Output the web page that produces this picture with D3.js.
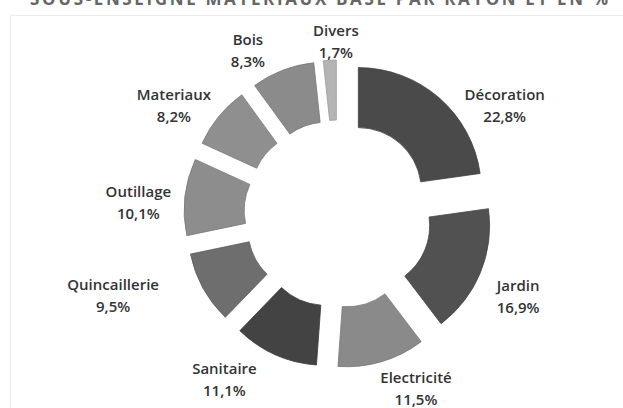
<!DOCTYPE html>
<html>
<head>
<meta charset="utf-8">
<script src="https://cdn.jsdelivr.net/npm/d3@7"></script>
<style>
  html, body { margin: 0; padding: 0; background: #fff; }
  svg { display: block; }
</style>
</head>
<body>
<svg id="chart" width="623" height="408"></svg>
<script>
// Répartition du chiffre d'affaires par rayon (en %)
const rayons = ["Décoration", "Jardin", "Electricité", "Sanitaire", "Quincaillerie", "Outillage", "Materiaux", "Bois", "Divers"];
const parts  = [22.8, 16.9, 11.5, 11.1, 9.5, 10.1, 8.2, 8.3, 1.7];
const titre  = "SOUS-ENSEIGNE MATÉRIAUX BASE PAR RAYON ET EN %";

// Niveaux de gris de chaque secteur
const teintes = ["#4a4a4a", "#515151", "#8a8a8a", "#434343", "#6e6e6e", "#8d8d8d", "#8f8f8f", "#8b8b8b", "#b4b4b4"];

// Position des étiquettes autour de l'anneau : [angle depuis midi (°), distance au centre]
const posEtiquettes = [[56.9, 199], [114.5, 198], [155.9, 191], [214.6, 200], [250.2, 239], [273.4, 200], [303.6, 197], [331.2, 187], [359.3, 173]];

const W = 623, H = 408;
const cx = 338, cy = 214;
const rIn = 63, rOut = 123, ecart = 31;

const svg = d3.select("#chart");

// Cadre du graphique
svg.append("rect")
  .attr("x", 10.5).attr("y", 15.5)
  .attr("width", W).attr("height", H)
  .attr("fill", "#fff")
  .attr("stroke", "#ececec").attr("stroke-width", 1);

// Titre (en partie hors du cadre, au ras du bord supérieur)
svg.append("text")
  .attr("x", 30).attr("y", 5)
  .attr("textLength", 578).attr("lengthAdjust", "spacing")
  .attr("font-family", "'Open Sans', sans-serif")
  .attr("font-weight", 700).attr("font-size", 17)
  .attr("fill", "#666")
  .text(titre);

const donnees = rayons.map((r, i) => ({ rayon: r, part: parts[i], i }));

const pie = d3.pie().sort(null).value(d => d.part);
const arc = d3.arc().innerRadius(rIn).outerRadius(rOut);
const arcs = pie(donnees);

const g = svg.append("g").attr("transform", `translate(${cx},${cy})`);

// Secteurs éclatés le long de leur bissectrice
g.selectAll("path.secteur")
  .data(arcs)
  .join("path")
  .attr("class", "secteur")
  .attr("d", arc)
  .attr("transform", d => {
    const a = (d.startAngle + d.endAngle) / 2;
    return `translate(${ecart * Math.sin(a)},${-ecart * Math.cos(a)})`;
  })
  .attr("fill", d => teintes[d.data.i])
  .attr("stroke", d => d3.color(teintes[d.data.i]).darker(0.4))
  .attr("stroke-width", 0.8);

// Étiquettes : nom du rayon et part
const fmt = v => v.toFixed(1).replace(".", ",") + "%";
const lab = g.selectAll("g.etiquette")
  .data(arcs)
  .join("g")
  .attr("class", "etiquette")
  .attr("transform", d => {
    const [ang, dist] = posEtiquettes[d.data.i];
    const a = ang * Math.PI / 180;
    return `translate(${dist * Math.sin(a)},${-dist * Math.cos(a)})`;
  })
  .attr("font-family", "'Open Sans', sans-serif")
  .attr("font-weight", 600)
  .attr("font-size", 15)
  .attr("fill", "#333")
  .attr("text-anchor", "middle");

lab.append("text").attr("y", -11).attr("dominant-baseline", "central").text(d => d.data.rayon);
lab.append("text").attr("y", 11).attr("dominant-baseline", "central").text(d => fmt(d.data.part));
</script>
</body>
</html>
